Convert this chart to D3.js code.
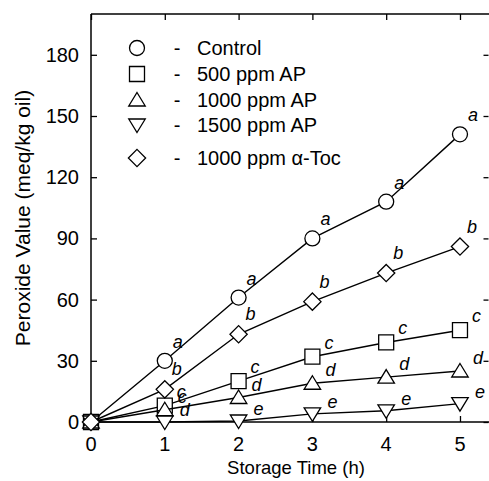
<!DOCTYPE html>
<html>
<head>
<meta charset="utf-8">
<script src="https://cdn.jsdelivr.net/npm/d3@7"></script>
<style>
  body { margin: 0; background: #fff; }
  text { font-family: "Liberation Sans", Arial, sans-serif; fill: #000; }
</style>
</head>
<body>
<div id="chart"></div>
<script>
// storage time (h) and peroxide value per treatment
const hours = [0, 1, 2, 3, 4, 5];
const control = [0, 30, 61, 90, 108, 141];
const ap500 = [0, 8, 20, 32, 39, 45];
const ap1000 = [0, 6, 12, 19, 22, 25];
const ap1500 = [0, 0, 0.5, 4, 5.5, 9];
const toc1000 = [0, 16, 43, 59, 73, 86];

// significance letters
const lettersControl = ["", "a", "a", "a", "a", "a"];
const letters500 = ["", "c", "c", "c", "c", "c"];
const letters1000 = ["", "c", "d", "d", "d", "d"];
const letters1500 = ["", "d", "e", "e", "e", "e"];
const lettersToc = ["", "b", "b", "b", "b", "b"];

const seriesNames = ["Control", "500 ppm AP", "1000 ppm AP", "1500 ppm AP", "1000 ppm α-Toc"];
const yTicks = [0, 30, 60, 90, 120, 150, 180];
const xTicks = [0, 1, 2, 3, 4, 5];

const series = [
  { name: seriesNames[0], values: control, letters: lettersControl, shape: "circle", dx: 8, dy: -13 },
  { name: seriesNames[1], values: ap500, letters: letters500, shape: "square", dx: 12, dy: -8 },
  { name: seriesNames[2], values: ap1000, letters: letters1000, shape: "triUp", dx: 13, dy: -7 },
  { name: seriesNames[3], values: ap1500, letters: letters1500, shape: "triDown", dx: 15, dy: -6 },
  { name: seriesNames[4], values: toc1000, letters: lettersToc, shape: "diamond", dx: 7, dy: -14 }
];

const width = 489, height = 481;
const mLeft = 91, mRight = 489.5, mTop = 14, mBottom = 422;

const x = d3.scaleLinear().domain([0, 5.4]).range([mLeft, mRight]);
const y = d3.scaleLinear().domain([0, 200]).range([mBottom, mTop]);

function shapePath(shape, r) {
  const p = d3.path();
  if (shape === "circle") {
    p.arc(0, 0, r, 0, 2 * Math.PI);
  } else if (shape === "square") {
    p.rect(-r, -r, 2 * r, 2 * r);
  } else if (shape === "triUp") {
    p.moveTo(0, -r); p.lineTo(r * 1.1, r * 0.8); p.lineTo(-r * 1.1, r * 0.8); p.closePath();
  } else if (shape === "triDown") {
    p.moveTo(0, r); p.lineTo(r * 1.1, -r * 0.8); p.lineTo(-r * 1.1, -r * 0.8); p.closePath();
  } else if (shape === "diamond") {
    p.moveTo(0, -r * 1.15); p.lineTo(r * 1.15, 0); p.lineTo(0, r * 1.15); p.lineTo(-r * 1.15, 0); p.closePath();
  }
  return p.toString();
}

const svg = d3.select("#chart").append("svg")
  .attr("width", width)
  .attr("height", height);

// axes, ticks pointing inward
svg.append("g")
  .attr("transform", `translate(${mLeft},0)`)
  .call(d3.axisRight(y).tickValues(yTicks).tickSize(6).tickFormat(""))
  .call(g => g.select(".domain").remove());

svg.append("g")
  .attr("transform", `translate(${mRight - 1},0)`)
  .call(d3.axisLeft(y).tickValues(yTicks).tickSize(5).tickFormat(""))
  .call(g => g.select(".domain").remove());

svg.append("g")
  .attr("transform", `translate(0,${mTop})`)
  .call(d3.axisBottom(x).tickValues(xTicks).tickSize(6).tickFormat(""))
  .call(g => g.select(".domain").remove());

svg.append("g")
  .attr("transform", `translate(0,${mBottom})`)
  .call(d3.axisTop(x).tickValues(xTicks).tickSize(6).tickFormat(""))
  .call(g => g.select(".domain").remove());

svg.selectAll(".tick line").attr("stroke", "#000").attr("stroke-width", 1.3);

svg.append("line").attr("x1", mLeft).attr("x2", mLeft).attr("y1", mTop).attr("y2", mBottom)
  .attr("stroke", "#000").attr("stroke-width", 1.5);
svg.append("line").attr("x1", mLeft).attr("x2", width).attr("y1", mTop).attr("y2", mTop)
  .attr("stroke", "#000").attr("stroke-width", 1.5);
svg.append("line").attr("x1", mLeft).attr("x2", width).attr("y1", mBottom).attr("y2", mBottom)
  .attr("stroke", "#000").attr("stroke-width", 1.5);

// tick labels
svg.append("g").selectAll("text")
  .data(yTicks)
  .enter().append("text")
  .attr("x", mLeft - 12)
  .attr("y", d => y(d))
  .attr("dy", "0.35em")
  .attr("text-anchor", "end")
  .attr("font-size", 20)
  .text(d => d);

svg.append("g").selectAll("text")
  .data(xTicks)
  .enter().append("text")
  .attr("x", d => x(d))
  .attr("y", 451)
  .attr("text-anchor", "middle")
  .attr("font-size", 20)
  .text(d => d);

// axis titles
svg.append("text")
  .attr("x", 296)
  .attr("y", 474)
  .attr("text-anchor", "middle")
  .attr("font-size", 18.5)
  .text("Storage Time (h)");

svg.append("text")
  .attr("transform", `translate(30,${(mTop + mBottom) / 2}) rotate(-90)`)
  .attr("text-anchor", "middle")
  .attr("font-size", 21)
  .text("Peroxide Value (meq/kg oil)");

// lines, markers, letters
const line = d3.line()
  .x((d, i) => x(hours[i]))
  .y(d => y(d));

const groups = svg.append("g").selectAll("g")
  .data(series)
  .enter().append("g");

groups.append("path")
  .attr("d", d => line(d.values))
  .attr("fill", "none")
  .attr("stroke", "#000")
  .attr("stroke-width", 1.4);

groups.each(function(s) {
  const g = d3.select(this);
  const pts = s.values.map((v, i) => ({ h: hours[i], v: v, l: s.letters[i] }));
  g.selectAll("path.mark")
    .data(pts)
    .enter().append("path")
    .attr("class", "mark")
    .attr("transform", d => `translate(${x(d.h)},${y(d.v)})`)
    .attr("d", shapePath(s.shape, 7.5))
    .attr("fill", "#fff")
    .attr("stroke", "#000")
    .attr("stroke-width", 1.3);
  g.selectAll("text")
    .data(pts.filter(d => d.l))
    .enter().append("text")
    .attr("x", d => x(d.h) + s.dx)
    .attr("y", d => y(d.v) + s.dy)
    .attr("font-size", 18)
    .attr("font-style", "italic")
    .text(d => d.l);
});

// legend
const legendRows = [48, 74, 100, 125, 158];
const legend = svg.append("g").selectAll("g")
  .data(series)
  .enter().append("g")
  .attr("transform", (d, i) => `translate(0,${legendRows[i]})`);

legend.append("path")
  .attr("transform", "translate(137,0)")
  .attr("d", d => shapePath(d.shape, 7.5))
  .attr("fill", "#fff")
  .attr("stroke", "#000")
  .attr("stroke-width", 1.3);

legend.append("text")
  .attr("x", 177)
  .attr("dy", "0.35em")
  .attr("text-anchor", "middle")
  .attr("font-size", 20)
  .text("-");

legend.append("text")
  .attr("x", 197)
  .attr("dy", "0.35em")
  .attr("font-size", 20)
  .text(d => d.name);
</script>
</body>
</html>
